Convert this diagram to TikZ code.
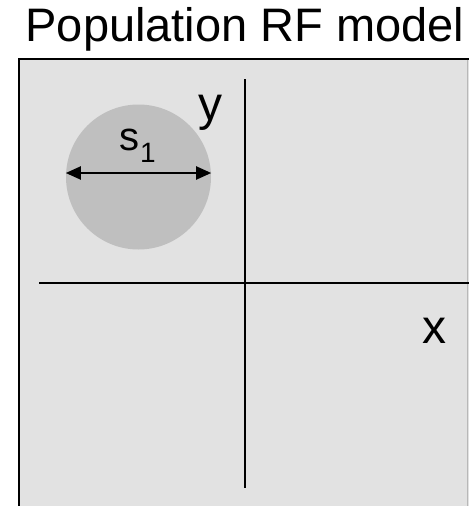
\documentclass[tikz,border=0pt]{standalone}
\usepackage{fontspec}
\setmainfont{Liberation Sans}
\usepackage{xcolor}
\usepackage{tikz}
\usetikzlibrary{positioning,arrows.meta}
\definecolor{RFField}{HTML}{E2E2E2}
\definecolor{RFDisk}{HTML}{BFBFBF}
\definecolor{RFEdge}{HTML}{B8B8B8}

\begin{document}
\begin{tikzpicture}[
  x=1pt,
  y=-1pt,
  title/.style={
    anchor=base,
    inner sep=0pt,
    font=\fontsize{47}{47}\selectfont
  },
  axislabel/.style={
    anchor=base,
    inner sep=0pt,
    font=\fontsize{48}{48}\selectfont
  },
  field/.style={
    fill=RFField,
    draw=none
  },
  disk/.style={
    circle,
    fill=RFDisk,
    draw=none,
    minimum size=145pt,
    inner sep=0pt
  },
  axis/.style={line width=2pt, draw=black},
  width/.style={line width=2pt, {Triangle[length=15pt,width=13pt]}-{Triangle[length=15pt,width=13pt]}},
]

\useasboundingbox (0,0) rectangle (469,506);

\node[title] (title) at (245,41) {Population RF model};

\fill[field] (18.5,58.5) rectangle (469,506);
\draw[line width=2pt] (18.5,506) -- (18.5,58.5) -- (469,58.5);
\draw[line width=1.5pt,RFEdge] (467.5,59.5) -- (467.5,506);

\node[disk] (rf) at (138.5,177) {};

\coordinate (ytop) at (245,79);
\coordinate (ybot) at (245,488);
\coordinate (xleft) at (39,283);
\coordinate (xright) at (469,283);
\draw[axis] (ytop) -- (ybot);
\draw[axis] (xleft) -- (xright);

\node[axislabel] (ylabel) at (210,120) {y};
\node[axislabel] (xlabel) at (434,343) {x};

\coordinate (rf-left) at (rf.west);
\coordinate (rf-right) at (rf.east);
\draw[width] ([yshift=4pt]rf-left) -- ([yshift=4pt]rf-right);

\node[anchor=base west,inner sep=0pt,font=\fontsize{40}{40}\selectfont] (size) at (119,150)
  {s\kern1pt\raisebox{-12pt}{\fontsize{28}{28}\selectfont 1}};
\end{tikzpicture}
\end{document}
